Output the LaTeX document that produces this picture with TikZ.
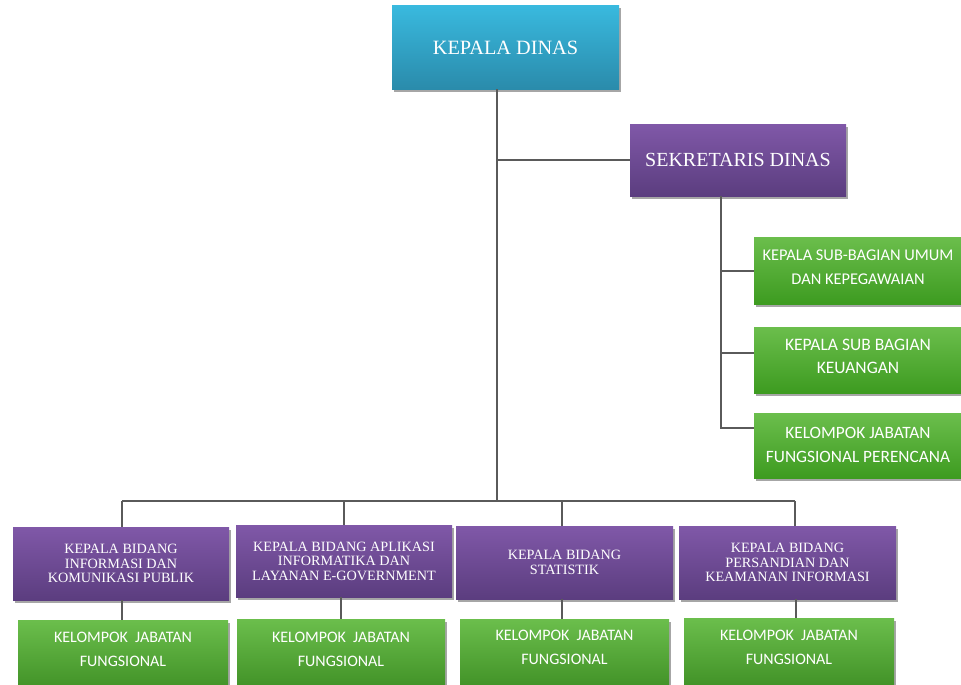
\documentclass[tikz,border=0pt]{standalone}
\usepackage{fontspec}
\setmainfont{Liberation Serif}
\newfontfamily\calfont{Carlito}
\usetikzlibrary{shadows}
\definecolor{cyanT}{HTML}{39B9DE}
\definecolor{cyanB}{HTML}{2A8BAB}
\definecolor{purT}{HTML}{8058A8}
\definecolor{purB}{HTML}{5B3D7F}
\definecolor{grnT}{HTML}{6BBE4C}
\definecolor{grnB}{HTML}{3D9B20}
\definecolor{lnC}{HTML}{5A5A5A}
\begin{document}
\begin{tikzpicture}[x=1pt,y=-1pt,
  box/.style={rectangle, inner sep=2pt, align=center, text=white,
    drop shadow={shadow xshift=2pt, shadow yshift=-2.5pt, opacity=0.35, fill=black}},
  cyanbox/.style={box, top color=cyanT, bottom color=cyanB, font=\fontsize{20.3}{24}\selectfont},
  purbox/.style={box, top color=purT, bottom color=purB},
  bigpur/.style={purbox, font=\fontsize{20}{24}\selectfont},
  smallpur/.style={purbox, font=\fontsize{14.2}{14.5}\selectfont},
  grnbox/.style={box, top color=grnT, bottom color=grnB},
  lowgrn/.style={box, top color=grnT, bottom color=grnB!85!black, minimum height=90, anchor=north},
  gtext/.style={align=center, text=white, inner sep=0pt},
  conn/.style={draw=lnC, line width=1.3pt}
]
\useasboundingbox (0,0) rectangle (961,685);

% nodes
\node[cyanbox, minimum width=227, minimum height=83] (kd) at (505.5,47.5) {KEPALA DINAS};
\node[bigpur, minimum width=216, minimum height=72] (sek) at (738,160) {SEKRETARIS DINAS};

\node[grnbox, minimum width=207, minimum height=67] (r1) at (857.5,270.5) {};
\node[grnbox, minimum width=207, minimum height=66] (r2) at (857.5,360) {};
\node[grnbox, minimum width=207, minimum height=65] (r3) at (857.5,446) {};
\node[gtext, font=\calfont\fontsize{16.4}{24.5}\selectfont] (r1t) at (858,267) {KEPALA SUB-BAGIAN UMUM\\DAN KEPEGAWAIAN};
\node[gtext, font=\calfont\fontsize{17.5}{23.7}\selectfont] (r2t) at (858,356.5) {KEPALA SUB BAGIAN\\KEUANGAN};
\node[gtext, font=\calfont\fontsize{17.3}{24}\selectfont] (r3t) at (858,445) {KELOMPOK JABATAN\\FUNGSIONAL PERENCANA};

\node[smallpur, minimum width=216, minimum height=73] (p1) at (121,563.5) {KEPALA BIDANG\\INFORMASI DAN\\KOMUNIKASI PUBLIK};
\node[smallpur, minimum width=216, minimum height=72] (p2) at (344,561) {KEPALA BIDANG APLIKASI\\INFORMATIKA DAN\\LAYANAN E-GOVERNMENT};
\node[smallpur, minimum width=217, minimum height=73] (p3) at (564.5,562.5) {KEPALA BIDANG\\STATISTIK};
\node[smallpur, minimum width=217, minimum height=73] (p4) at (787.5,562.5) {KEPALA BIDANG\\PERSANDIAN DAN\\KEAMANAN INFORMASI};

\node[lowgrn, minimum width=210] (g1) at (123,620) {};
\node[lowgrn, minimum width=208] (g2) at (341,619) {};
\node[lowgrn, minimum width=209] (g3) at (564.5,619) {};
\node[lowgrn, minimum width=210] (g4) at (789,618) {};
\tikzset{btext/.style={gtext, font=\calfont\fontsize{16}{24}\selectfont}}
\node[btext] (g1t) at (123,649.5) {KELOMPOK\ \ JABATAN\\FUNGSIONAL};
\node[btext] (g2t) at (341,649) {KELOMPOK\ \ JABATAN\\FUNGSIONAL};
\node[btext] (g3t) at (564.5,647) {KELOMPOK\ \ JABATAN\\FUNGSIONAL};
\node[btext] (g4t) at (789,647) {KELOMPOK\ \ JABATAN\\FUNGSIONAL};

% connector junctions
\coordinate (trk) at ([xshift=-8.5pt]kd.south);
\coordinate (bus) at (497,501);
\coordinate (sp) at ([xshift=-17pt]sek.south);
\coordinate (b1) at (122,501);
\coordinate (b2) at (344,501);
\coordinate (b3) at (562,501);
\coordinate (b4) at (795,501);

\draw[conn] (trk) -- (bus);
\draw[conn] (trk |- sek.west) -- (sek.west);
\draw[conn] (sp) |- ([yshift=-0.5pt]r1.west);
\draw[conn] (sp) |- ([yshift=7pt]r2.west);
\draw[conn] (sp) |- ([yshift=18pt]r3.west);
\draw[conn] (b1) -- (b4);
\draw[conn] (b1) -- (b1 |- p1.north);
\draw[conn] (b2) -- (b2 |- p2.north);
\draw[conn] (b3) -- (b3 |- p3.north);
\draw[conn] (b4) -- (b4 |- p4.north);
\draw[conn] (b1 |- p1.south) -- (b1 |- g1.north);
\draw[conn] ([xshift=-3pt]p2.south) -- ([xshift=-3pt]p2.south |- g2.north);
\draw[conn] (b3 |- p3.south) -- (b3 |- g3.north);
\draw[conn] ([xshift=1pt]b4 |- p4.south) -- ([xshift=1pt]b4 |- g4.north);
\end{tikzpicture}
\end{document}
